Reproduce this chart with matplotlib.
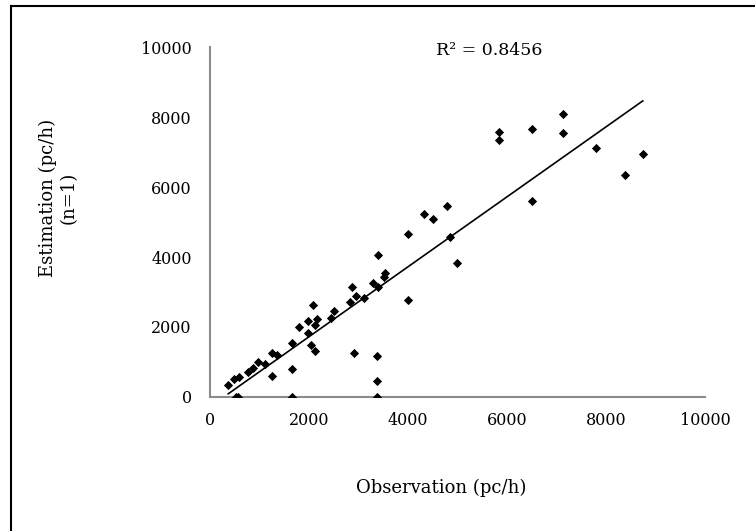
import numpy as np
import matplotlib
matplotlib.use('Agg')
import matplotlib.pyplot as plt
from matplotlib.lines import Line2D

# Observation vs estimation (pc/h)
obs = [370, 490, 590, 525, 570, 760, 875, 975, 1110, 1245,
       1350, 1245, 1650, 1650, 1650, 1805, 1975, 2090, 2155, 2120,
       1985, 2040, 2120, 2440, 2505, 2860, 2830, 2940, 3110, 3285,
       3400, 2915, 3380, 3380, 3380, 3535, 3515, 3390, 3990, 3990,
       4330, 4510, 4780, 4850, 4995, 5840, 5840, 6500, 6500, 7125,
       7125, 7790, 8740, 8380]
est = [330, 520, 560, 0, 0, 705, 820, 1010, 940, 1250,
       1200, 600, 1550, 790, 0, 1990, 2170, 2630, 2220, 2060,
       1820, 1485, 1310, 2270, 2460, 3150, 2720, 2890, 2820, 3270,
       3130, 1250, 1170, 465, 10, 3550, 3440, 4070, 4650, 2770,
       5230, 5100, 5460, 4580, 3820, 7560, 7340, 7660, 5600, 8080,
       7530, 7120, 6940, 6340]
ticks = [0, 2000, 4000, 6000, 8000, 10000]
r2_text = 'R\u00b2 = 0.8456'

plt.rcParams['font.family'] = 'DejaVu Serif'
plt.rcParams['font.size'] = 11.5

fig = plt.figure(figsize=(7.55, 5.31), dpi=100)
ax = fig.add_axes([0.278, 0.2524, 0.656, 0.659])

ax.scatter(obs, est, marker='D', s=22, color='black', zorder=3, linewidths=0)

# linear trendline over the data range
k, b = np.polyfit(obs, est, 1)
xs = np.array([min(obs), max(obs)])
ax.plot(xs, k * xs + b, color='black', lw=1.2)

ax.set_xlim(0, 10000)
ax.set_ylim(0, 10000)
ax.set_xticks(ticks)
ax.set_yticks(ticks)
ax.tick_params(length=0)
ax.tick_params(axis='y', pad=13)
ax.tick_params(axis='x', pad=11)
for s in ['top', 'right']:
    ax.spines[s].set_visible(False)
for s in ['left', 'bottom']:
    ax.spines[s].set_color('#8c8c8c')
    ax.spines[s].set_linewidth(1.5)

fig.text(0.648, 0.904, r2_text, ha='center', va='center', fontsize=12.5)
fig.text(0.585, 0.081, 'Observation (pc/h)', ha='center', va='center', fontsize=13)
fig.text(0.077, 1 - 198 / 531, 'Estimation (pc/h)\n(n=1)', ha='center', va='center',
         rotation=90, multialignment='center', fontsize=13)

# outer frame (left and top edges show)
fig.add_artist(Line2D([11 / 755, 11 / 755], [0, 1 - 6 / 531], color='black', lw=1.5))
fig.add_artist(Line2D([11 / 755, 1], [1 - 6 / 531, 1 - 6 / 531], color='black', lw=1.5))

fig.savefig('out.png', dpi=100)
